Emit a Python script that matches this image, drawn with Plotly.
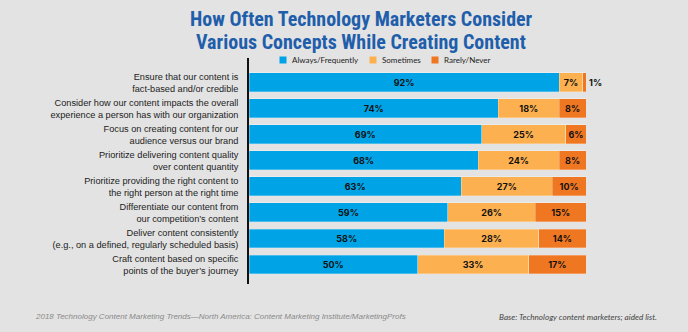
import plotly.graph_objects as go

categories = [
    "Ensure that our content is<br>fact-based and/or credible",
    "Consider how our content impacts the overall<br>experience a person has with our organization",
    "Focus on creating content for our<br>audience versus our brand",
    "Prioritize delivering content quality<br>over content quantity",
    "Prioritize providing the right content to<br>the right person at the right time",
    "Differentiate our content from<br>our competition’s content",
    "Deliver content consistently<br>(e.g., on a defined, regularly scheduled basis)",
    "Craft content based on specific<br>points of the buyer’s journey",
]
always = [92, 74, 69, 68, 63, 59, 58, 50]
sometimes = [7, 18, 25, 24, 27, 26, 28, 33]
rarely = [1, 8, 6, 8, 10, 15, 14, 17]
series_names = ["Always/Frequently", "Sometimes", "Rarely/Never"]
colors = ["#00A3E6", "#FDB04F", "#F07722"]
title_lines = ["How Often Technology Marketers Consider", "Various Concepts While Creating Content"]

W, H = 688, 332
L, R, T, B = 249, 102, 58, 48
pw, ph = W - L - R, H - T - B


def px(x):
    return (x - L) / pw


def py(y):
    return (H - B - y) / ph


fig = go.Figure()
for name, vals, col in zip(series_names, [always, sometimes, rarely], colors):
    tp = ["inside"] * len(vals)
    if name == "Rarely/Never":
        tp = ["outside" if v < 3 else "inside" for v in vals]
    fig.add_trace(go.Bar(
        y=categories, x=vals, name=name, orientation="h",
        marker=dict(color=col, line=dict(color="rgba(255,255,255,0.35)", width=0.8)),
        text=[f"<b>{v}%</b>" for v in vals], textposition=tp,
        insidetextanchor="middle", constraintext="none", textangle=0,
        textfont=dict(family="Inter, Roboto, sans-serif", size=9, color="#111"),
        outsidetextfont=dict(family="Inter, Roboto, sans-serif", size=9, color="#111"),
        showlegend=False, cliponaxis=False,
    ))

annotations = []
for line, yy in zip(title_lines, [19, 42]):
    annotations.append(dict(text=f"<b>{line}</b>",
         xref="paper", yref="paper", x=px(361), y=py(yy), xanchor="center", yanchor="middle",
         showarrow=False, align="center",
         font=dict(family="Liberation Sans Narrow, Roboto Condensed, Roboto, sans-serif", size=20, color="#1F5EAB")))
annotations += [
    dict(text="<i>2018 Technology Content Marketing Trends—North America: Content Marketing Institute/MarketingProfs</i>",
         xref="paper", yref="paper", x=px(33), y=py(316), xanchor="left", yanchor="middle",
         showarrow=False, font=dict(family="Liberation Sans Narrow, sans-serif", size=8, color="#8a8a8a")),
    dict(text="<i>Base: Technology content marketers; aided list.</i>",
         xref="paper", yref="paper", x=px(659), y=py(317), xanchor="right", yanchor="middle",
         showarrow=False, font=dict(family="Lato, sans-serif", size=8.2, color="#444")),
]
shapes = []
leg_x = [283, 373, 435]
for name, col, lx in zip(series_names, colors, leg_x):
    shapes.append(dict(type="rect", xref="paper", yref="paper",
                       x0=px(lx - 3.5), x1=px(lx + 3.5), y0=py(63.5), y1=py(56.5),
                       fillcolor=col, line=dict(width=0)))
    annotations.append(dict(text=name, xref="paper", yref="paper", x=px(lx + 7), y=py(60),
                            xanchor="left", yanchor="middle", showarrow=False,
                            font=dict(family="Lato, sans-serif", size=8, color="#222")))

fig.update_layout(
    width=W, height=H, margin=dict(l=L, r=R, t=T, b=B),
    paper_bgcolor="#E3E3E3", plot_bgcolor="#E3E3E3",
    barmode="stack", bargap=0.27,
    xaxis=dict(range=[0, 100], visible=False, fixedrange=True),
    yaxis=dict(type="category", range=[7.75, -0.94], showline=True, linecolor="#111", linewidth=1.5,
               showgrid=False, zeroline=False, ticks="", ticklabelstandoff=7,
               tickfont=dict(family="Liberation Sans Narrow, sans-serif", size=9.2, color="#222")),
    annotations=annotations, shapes=shapes,
    font=dict(family="Lato, sans-serif"),
)
fig.write_html("out.html")
